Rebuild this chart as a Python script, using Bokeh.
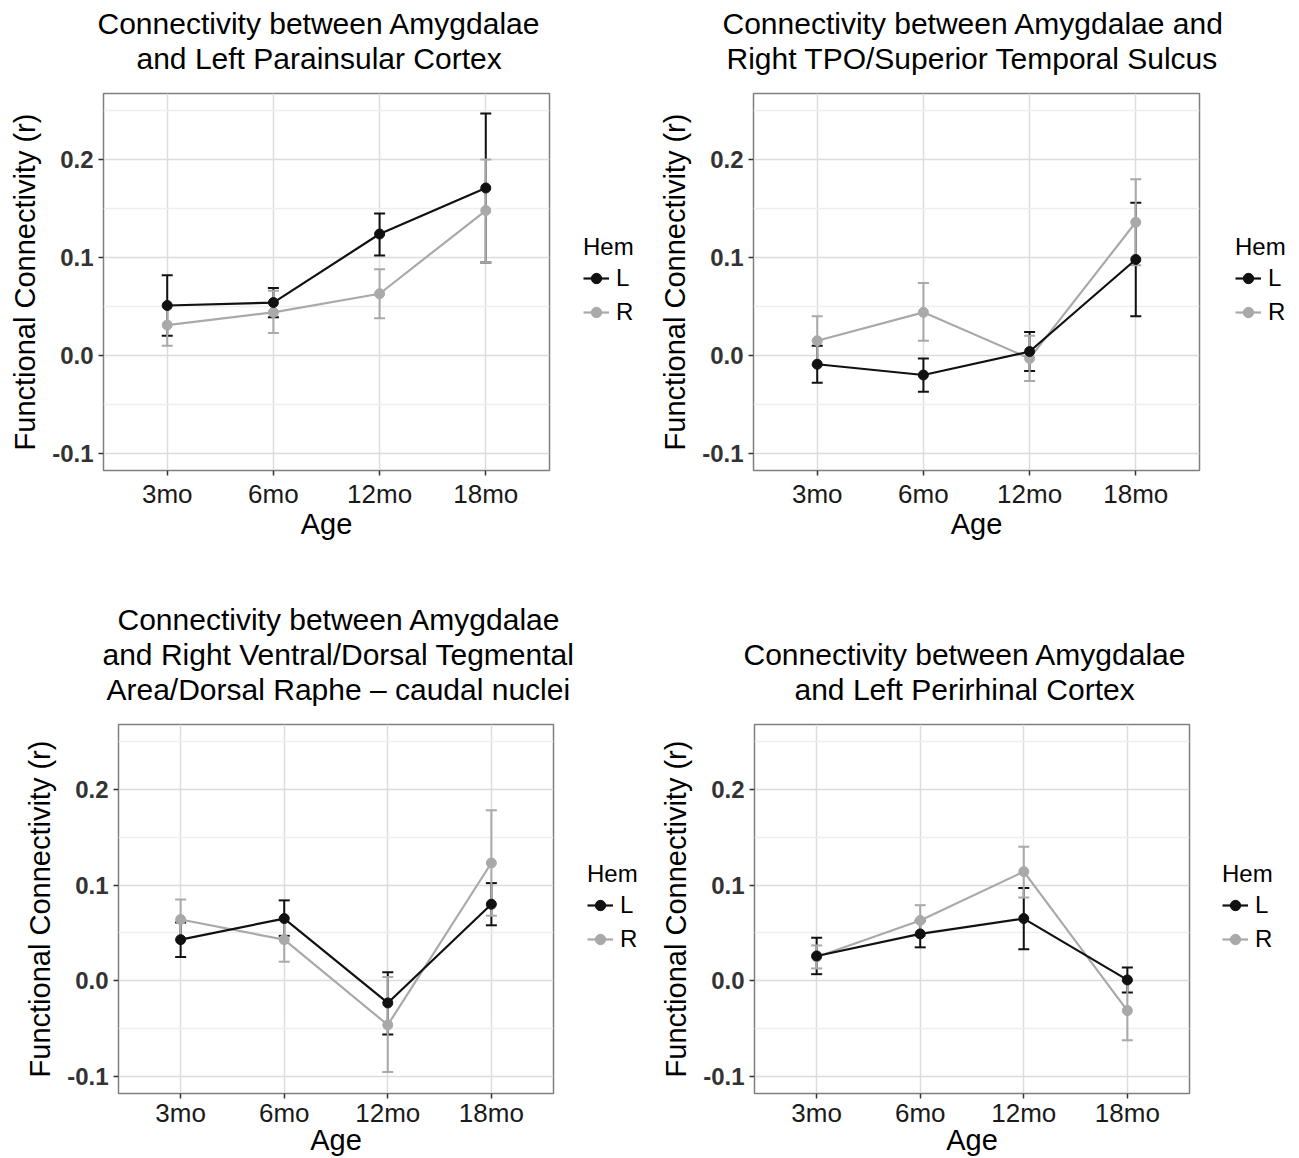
from bokeh.plotting import figure
from bokeh.models import (Range1d, FactorRange, FixedTicker, Whisker, TeeHead, ColumnDataSource,
                          Legend, LegendItem, Title, NumeralTickFormatter)
from bokeh.layouts import column, row
from bokeh.embed import file_html
from bokeh.resources import INLINE

# ---------------- data ----------------
ages = ["3mo", "6mo", "12mo", "18mo"]
hem_labels = ["L", "R"]

title1 = ["Connectivity between Amygdalae", "and Left Parainsular Cortex"]
p1_L = [0.051, 0.054, 0.124, 0.171]
p1_L_lo = [0.020, 0.039, 0.102, 0.095]
p1_L_hi = [0.082, 0.069, 0.145, 0.247]
p1_R = [0.031, 0.044, 0.063, 0.148]
p1_R_lo = [0.010, 0.023, 0.038, 0.095]
p1_R_hi = [0.051, 0.066, 0.088, 0.200]

title2 = ["Connectivity between Amygdalae and", "Right TPO/Superior Temporal Sulcus"]
p2_L = [-0.009, -0.020, 0.004, 0.098]
p2_L_lo = [-0.028, -0.037, -0.016, 0.040]
p2_L_hi = [0.010, -0.003, 0.024, 0.156]
p2_R = [0.015, 0.044, -0.003, 0.136]
p2_R_lo = [-0.010, 0.015, -0.026, 0.092]
p2_R_hi = [0.040, 0.074, 0.020, 0.180]

title3 = ["Connectivity between Amygdalae", "and Right Ventral/Dorsal Tegmental",
          "Area/Dorsal Raphe \u2013 caudal nuclei"]
p3_L = [0.043, 0.065, -0.023, 0.080]
p3_L_lo = [0.025, 0.047, -0.056, 0.058]
p3_L_hi = [0.061, 0.084, 0.009, 0.102]
p3_R = [0.064, 0.043, -0.046, 0.123]
p3_R_lo = [0.043, 0.020, -0.095, 0.068]
p3_R_hi = [0.085, 0.066, 0.004, 0.178]

title4 = ["Connectivity between Amygdalae", "and Left Perirhinal Cortex"]
p4_L = [0.026, 0.049, 0.065, 0.001]
p4_L_lo = [0.007, 0.035, 0.033, -0.012]
p4_L_hi = [0.045, 0.063, 0.097, 0.014]
p4_R = [0.025, 0.063, 0.114, -0.031]
p4_R_lo = [0.013, 0.047, 0.087, -0.062]
p4_R_hi = [0.037, 0.079, 0.140, 0.000]

y_ticks = [-0.1, 0.0, 0.1, 0.2]
y_minor = [-0.05, 0.05, 0.15, 0.25]

# ---------------- style ----------------
FONT = "Liberation Sans"
L_COLOR = "#111111"
R_COLOR = "#a9a9a9"
RB = 30  # right border of each panel (room for long titles)


def make_panel(title_lines, title_offsets, L, L_lo, L_hi, R, R_lo, R_hi,
               fw, fh, left, top, bottom, lab_so, ax_so):
    p = figure(frame_width=fw, frame_height=fh,
               x_range=FactorRange(factors=ages, range_padding=0.1, range_padding_units="absolute"),
               y_range=Range1d(-0.1175, 0.2675),
               output_backend="svg", toolbar_location=None,
               min_border_left=left, min_border_right=RB,
               min_border_top=top, min_border_bottom=bottom)
    p.title.visible = False
    p.background_fill_color = "white"
    p.border_fill_color = "white"
    p.outline_line_color = "#7f7f7f"
    p.outline_line_width = 1.5

    # spacer between frame and title block, then title lines (closest first)
    p.add_layout(Title(text=" ", text_font_size="1px", standoff=16), "above")
    for line, off in reversed(list(zip(title_lines, title_offsets))):
        p.add_layout(Title(text=line, align="left", offset=off,
                           text_font=FONT, text_font_size="30px", text_font_style="normal",
                           text_color="black", standoff=0), "above")

    # grids
    p.xgrid.grid_line_color = "#dcdcdc"
    p.xgrid.grid_line_width = 1.5
    p.ygrid.grid_line_color = "#dcdcdc"
    p.ygrid.grid_line_width = 1.5
    p.ygrid.minor_grid_line_color = "#eeeeee"
    p.ygrid.minor_grid_line_width = 1.5

    # axes
    p.yaxis.ticker = FixedTicker(ticks=y_ticks, minor_ticks=y_minor)
    p.yaxis.formatter = NumeralTickFormatter(format="0.0")
    for ax in (p.xaxis[0], p.yaxis[0]):
        ax.axis_line_color = None
        ax.major_tick_line_color = "#333333"
        ax.major_tick_line_width = 1.5
        ax.major_tick_out = 5
        ax.major_tick_in = 0
        ax.minor_tick_line_color = None
        ax.axis_label_text_font = FONT
        ax.axis_label_text_font_size = "29px"
        ax.axis_label_text_font_style = "normal"
        ax.axis_label_text_color = "black"
        ax.major_label_text_font = FONT
        ax.major_label_text_color = "#1a1a1a"
    p.xaxis.axis_label = "Age"
    p.xaxis.major_label_text_font_size = "26px"
    p.xaxis.major_label_standoff = lab_so
    p.xaxis.axis_label_standoff = ax_so
    p.yaxis.axis_label = "Functional Connectivity (r)"
    p.yaxis.major_label_text_font_size = "24px"
    p.yaxis.major_label_text_font_style = "bold"
    p.yaxis.major_label_text_color = "#333333"
    p.yaxis.major_label_standoff = 5
    p.yaxis.axis_label_standoff = 8

    srcL = ColumnDataSource(dict(age=ages, v=L, lo=L_lo, hi=L_hi))
    srcR = ColumnDataSource(dict(age=ages, v=R, lo=R_lo, hi=R_hi))

    for src, col in ((srcL, L_COLOR), (srcR, R_COLOR)):
        wk = Whisker(source=src, base="age", lower="lo", upper="hi", dimension="height",
                     line_color=col, line_width=2,
                     upper_head=TeeHead(size=11, line_color=col, line_width=2),
                     lower_head=TeeHead(size=11, line_color=col, line_width=2))
        p.add_layout(wk)

    p.line("age", "v", source=srcR, line_color=R_COLOR, line_width=2.2)
    p.line("age", "v", source=srcL, line_color=L_COLOR, line_width=2.2)
    p.scatter("age", "v", source=srcR, size=10, fill_color=R_COLOR, line_color=R_COLOR)
    p.scatter("age", "v", source=srcL, size=10, fill_color=L_COLOR, line_color=L_COLOR)
    return p


def make_legend_fig(w, h, x_loc, y_loc):
    # small side figure holding the "Hem" legend (key renderers sit outside its range)
    lf = figure(width=w, height=h, output_backend="svg", toolbar_location=None,
                x_axis_location=None, y_axis_location=None, min_border=0,
                x_range=Range1d(0, 1), y_range=Range1d(0, 1))
    lf.title.visible = False
    lf.outline_line_color = None
    lf.background_fill_color = "white"
    lf.border_fill_color = "white"
    for g in lf.grid:
        g.visible = False
    keys = []
    for col in (L_COLOR, R_COLOR):
        ln = lf.line(x=[-5, -4], y=[-5, -5], line_color=col, line_width=2.2)
        sc = lf.scatter(x=[-5], y=[-5], size=10, fill_color=col, line_color=col)
        keys.append([ln, sc])
    legend = Legend(items=[LegendItem(label=hem_labels[i], renderers=keys[i]) for i in range(2)],
                    title="Hem", location=(x_loc, y_loc),
                    title_text_font=FONT, title_text_font_size="24px", title_text_font_style="normal",
                    title_text_color="black", title_standoff=2,
                    label_text_font=FONT, label_text_font_size="24px", label_text_color="black",
                    glyph_width=26, glyph_height=30, label_height=30, label_standoff=7,
                    spacing=4, padding=0, margin=0,
                    border_line_color=None, background_fill_alpha=0)
    lf.add_layout(legend, "center")
    return lf


TOP_H = 559
BOT_H = 1158 - TOP_H

p1 = make_panel(title1, [-6, 33], p1_L, p1_L_lo, p1_L_hi, p1_R, p1_R_lo, p1_R_hi,
                446, 377, 103, 93, TOP_H - 470, 3, -4)
p2 = make_panel(title2, [-31, -27], p2_L, p2_L_lo, p2_L_hi, p2_R, p2_R_lo, p2_R_hi,
                446, 377, 103, 93, TOP_H - 470, 3, -4)
p3 = make_panel(title3, [-1, -16, -12], p3_L, p3_L_lo, p3_L_hi, p3_R, p3_R_lo, p3_R_hi,
                435, 369, 118, 724 - TOP_H, 65, -1, -7)
p4 = make_panel(title4, [-11, 40], p4_L, p4_L_lo, p4_L_hi, p4_R, p4_R_lo, p4_R_hi,
                435, 369, 104, 724 - TOP_H, 65, -1, -7)

lg1 = make_legend_fig(650 - (103 + 446 + RB), TOP_H, 34 - RB, 143)
lg2 = make_legend_fig(649 - (103 + 446 + RB), TOP_H, 36 - RB, 143)
lg3 = make_legend_fig(650 - (118 + 435 + RB), BOT_H, 34 - RB, 139)
lg4 = make_legend_fig(649 - (104 + 435 + RB), BOT_H, 33 - RB, 139)

layout = column(row(p1, lg1, p2, lg2), row(p3, lg3, p4, lg4))

open("out.html", "w").write(file_html(layout, INLINE))
